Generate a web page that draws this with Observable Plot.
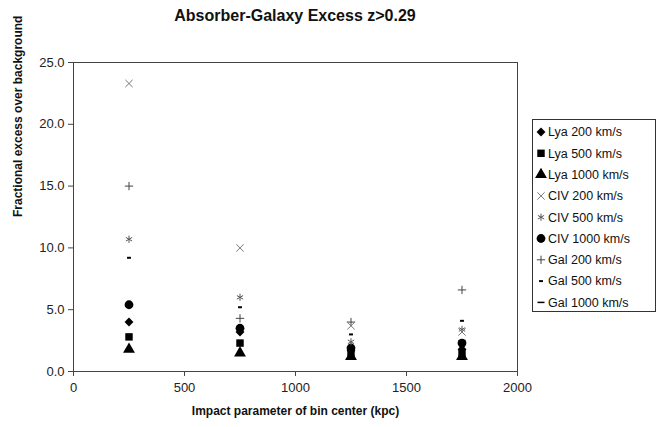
<!DOCTYPE html>
<html>
<head>
<meta charset="utf-8">
<script src="https://cdn.jsdelivr.net/npm/d3@7"></script>
<script src="https://cdn.jsdelivr.net/npm/@observablehq/plot@0.6"></script>
<style>
  body { margin: 0; background: #fff; font-family: "Liberation Sans", Arial, sans-serif; }
  #chart { position: relative; width: 658px; height: 427px; overflow: hidden; }
  #title { position: absolute; top: 7px; left: 0; width: 590px; text-align: center;
           font-weight: bold; font-size: 16px; color: #111; }
  #plot { position: absolute; left: 0; top: 0; }
  #legend { position: absolute; left: 532px; top: 119px; width: 124px; height: 193px;
            border: 1px solid #333; box-sizing: border-box; background: #fff; }
</style>
</head>
<body>
<div id="chart">
  <div id="title">Absorber-Galaxy Excess z&gt;0.29</div>
  <div id="plot"></div>
  <div id="legend"></div>
</div>
<script>
// Bin centers (kpc)
const binCenters = [250, 750, 1250, 1750];

// Fractional excess per series, one value per bin
const lya200  = [4.0, 3.2, 1.7, 1.8];
const lya500  = [2.8, 2.3, 1.5, 1.5];
const lya1000 = [1.8, 1.5, 1.2, 1.2];
const civ200  = [23.3, 10.0, 3.7, 3.2];
const civ500  = [10.7, 6.0, 2.4, 3.4];
const civ1000 = [5.4, 3.5, 1.9, 2.3];
const gal200  = [15.0, 4.3, 4.0, 6.6];
const gal500  = [9.2, 5.2, 3.0, 4.1];
const gal1000 = [5.5, 3.6, 2.0, 2.5];

const xTicks = [0, 500, 1000, 1500, 2000];
const yTicks = [0, 5, 10, 15, 20, 25];

// Short and long horizontal dash markers
const dashShort = { draw(ctx, size) { const r = Math.sqrt(size) / 2; ctx.moveTo(-r * 0.5, 0); ctx.lineTo(r * 0.5, 0); } };
const dashLong  = { draw(ctx, size) { const r = Math.sqrt(size) / 2; ctx.moveTo(-r * 0.9, 0); ctx.lineTo(r * 0.9, 0); } };

const series = [
  { name: "Lya 200 km/s",  values: lya200,  symbol: d3.symbolDiamond2, filled: true,  color: "#000", r: 4.0, w: 1 },
  { name: "Lya 500 km/s",  values: lya500,  symbol: d3.symbolSquare,   filled: true,  color: "#000", r: 4.2, w: 1 },
  { name: "Lya 1000 km/s", values: lya1000, symbol: d3.symbolTriangle, filled: true,  color: "#000", r: 4.4, w: 1 },
  { name: "CIV 200 km/s",  values: civ200,  symbol: d3.symbolTimes,    filled: false, color: "#777", r: 3.4, w: 1 },
  { name: "CIV 500 km/s",  values: civ500,  symbol: d3.symbolAsterisk, filled: false, color: "#555", r: 3.4, w: 1 },
  { name: "CIV 1000 km/s", values: civ1000, symbol: d3.symbolCircle,   filled: true,  color: "#000", r: 4.4, w: 1 },
  { name: "Gal 200 km/s",  values: gal200,  symbol: d3.symbolPlus,     filled: false, color: "#444", r: 2.8, w: 1 },
  { name: "Gal 500 km/s",  values: gal500,  symbol: dashShort,         filled: false, color: "#000", r: 4.4, w: 2 },
  { name: "Gal 1000 km/s", values: gal1000, symbol: dashLong,          filled: false, color: "#000", r: 4.4, w: 1.5 }
];

const rows = s => binCenters.map((x, i) => ({ x, y: s.values[i] }));

// Draw the later series first so filled markers sit on top
const dotMarks = series.slice().reverse().map(s => Plot.dot(rows(s), {
  x: "x", y: "y", symbol: () => s.symbol, r: s.r,
  fill: s.filled ? s.color : "none",
  stroke: s.filled ? "none" : s.color,
  strokeWidth: s.w
}));

const plot = Plot.plot({
  width: 658,
  height: 427,
  marginLeft: 73,
  marginRight: 141,
  marginTop: 62,
  marginBottom: 56,
  style: { fontFamily: "Liberation Sans, Arial, sans-serif", fontSize: "13px", color: "#222", background: "transparent" },
  x: { domain: [0, 2000] },
  y: { domain: [0, 25] },
  marks: [
    Plot.frame({ stroke: "#444" }),
    Plot.axisX({ ticks: xTicks, tickSize: 5, tickPadding: 6, tickFormat: d3.format("d"), label: null, stroke: "#444" }),
    Plot.axisY({ ticks: yTicks, tickSize: 5, tickPadding: 4, tickFormat: d3.format(".1f"), label: null, stroke: "#444" }),
    Plot.text(["Impact parameter of bin center (kpc)"], {
      frameAnchor: "bottom", dy: 40, fontWeight: "bold", fontSize: 12, fill: "#111", lineAnchor: "middle"
    }),
    Plot.text(["Fractional excess over background"], {
      frameAnchor: "left", dx: -55, rotate: -90, fontWeight: "bold", fontSize: 12, fill: "#111", lineAnchor: "middle"
    }),
    ...dotMarks
  ]
});
document.getElementById("plot").append(plot);

// Legend: one row per series, with the same markers
const lsvg = d3.select("#legend").append("svg").attr("width", 122).attr("height", 191);
series.forEach((s, i) => {
  const y = 12 + i * 21.3;
  const size = Math.PI * s.r * s.r;
  lsvg.append("path")
    .attr("transform", `translate(8,${y})`)
    .attr("d", d3.symbol(s.symbol, size)())
    .attr("fill", s.filled ? s.color : "none")
    .attr("stroke", s.filled ? "none" : s.color)
    .attr("stroke-width", s.w);
  lsvg.append("text")
    .attr("x", 15).attr("y", y).attr("dy", "0.35em")
    .attr("font-size", 12.5).attr("fill", "#111")
    .attr("font-family", "Liberation Sans, Arial, sans-serif")
    .text(s.name);
});
</script>
</body>
</html>
